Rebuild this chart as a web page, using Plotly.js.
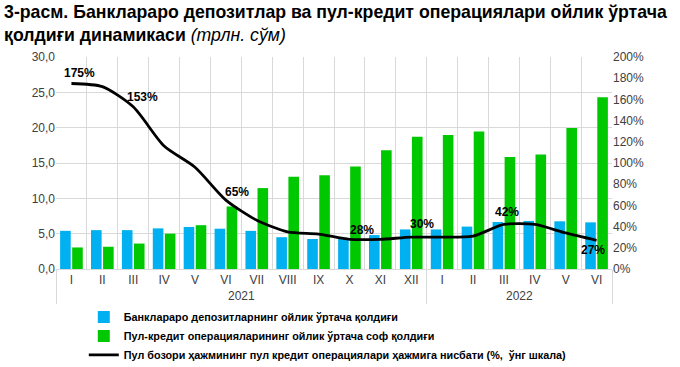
<!DOCTYPE html>
<html>
<head>
<meta charset="utf-8">
<script src="https://cdn.plot.ly/plotly-3.0.1.min.js"></script>
<style>html,body{margin:0;padding:0;background:#fff;}#chart{width:680px;height:367px;}</style>
</head>
<body>
<div id="chart"></div>
<script>
// ---- data ----
const months = ['I','II','III','IV','V','VI','VII','VIII','IX','X','XI','XII','I','II','III','IV','V','VI'];
const years  = ['2021','2021','2021','2021','2021','2021','2021','2021','2021','2021','2021','2021','2022','2022','2022','2022','2022','2022'];
const interbank = [5.4, 5.5, 5.5, 5.75, 5.95, 5.7, 5.4, 4.5, 4.25, 4.3, 4.8, 5.6, 5.6, 6.0, 6.65, 6.8, 6.75, 6.6];
const monetary  = [3.05, 3.15, 3.6, 5.0, 6.2, 8.85, 11.45, 13.05, 13.25, 14.5, 16.8, 18.7, 18.95, 19.45, 15.85, 16.2, 19.95, 24.3];
const ratio     = [175, 172, 153, 116, 96, 65, 46, 35, 33, 28, 28, 30, 30, 31, 42, 42, 34, 27];
const ratioLabels = ['175%','','153%','','','65%','','','','28%','','30%','','','42%','','','27%'];

const names = [
  'Банклараро депозитларнинг ойлик ўртача қолдиғи',
  'Пул-кредит операцияларининг ойлик ўртача соф қолдиғи',
  'Пул бозори ҳажмининг пул кредит операциялари ҳажмига нисбати (%,  ўнг шкала)'
];

const x = [years, months];
const FONT = 'Liberation Sans, Arial, sans-serif';

const traces = [
  {type:'bar', x:x, y:interbank, name:names[0], marker:{color:'#00b0f0'}},
  {type:'bar', x:x, y:monetary, name:names[1], marker:{color:'#00c800'}},
  {type:'scatter', mode:'lines', x:x, y:ratio, yaxis:'y2', name:names[2],
   line:{color:'#000', width:2.8, shape:'spline', smoothing:0.7}}
];

const shifts = {0:[8,11],2:[9,10],5:[11,8],9:[13,9],11:[11,13],14:[3,12],17:[-4,-10]};
const annotations = [];
ratioLabels.forEach((t,i)=>{
  if(!t) return;
  const s = shifts[i] || [0,10];
  annotations.push({x:[years[i], months[i]], y:ratio[i], xref:'x', yref:'y2', text:'<b>'+t+'</b>',
    showarrow:false, xshift:s[0], yshift:s[1], font:{family:FONT, size:12, color:'#000'}});
});

const tf = {family:FONT, size:12, color:'#404040'};
const layout = {
  width:680, height:367,
  margin:{l:56, r:68, t:57, b:98, autoexpand:false},
  paper_bgcolor:'#fff', plot_bgcolor:'#fff',
  separators:', ',
  font:{family:FONT, size:12, color:'#404040'},
  title:{text:'<b>3-расм. Банклараро депозитлар ва пул-кредит операциялари ойлик ўртача<br>қолдиғи динамикаси</b> <i>(трлн. сўм)</i>',
    x:0.006, xanchor:'left', y:0.952, yanchor:'top', font:{family:FONT, size:17.7, color:'#000'}},
  barmode:'group', bargap:0.22, bargroupgap:0.12,
  xaxis:{type:'multicategory', showgrid:true, gridcolor:'#d9d9d9', tickson:'boundaries',
    showdividers:true, dividercolor:'#d9d9d9', dividerwidth:1, automargin:false,
    showline:true, linecolor:'#d9d9d9', ticks:'', tickfont:tf},
  yaxis:{range:[0,30], dtick:5, tickformat:'.1f', showgrid:true, gridcolor:'#d9d9d9', zeroline:false,
    ticks:'', tickfont:tf, automargin:false},
  yaxis2:{range:[0,200], dtick:20, ticksuffix:'%', overlaying:'y', side:'right', showgrid:false, zeroline:false,
    ticks:'', tickfont:tf, automargin:false},
  showlegend:true,
  legend:{orientation:'v', xref:'paper', x:0.05, xanchor:'left', yref:'container', y:0.176, yanchor:'top', traceorder:'normal',
    font:{family:FONT, size:10.8, color:'#000', weight:'bold'}, itemwidth:30, tracegroupgap:0, bgcolor:'rgba(0,0,0,0)'},
  annotations:annotations
};

Plotly.newPlot('chart', traces, layout, {displayModeBar:false, staticPlot:true});
</script>
</body>
</html>
